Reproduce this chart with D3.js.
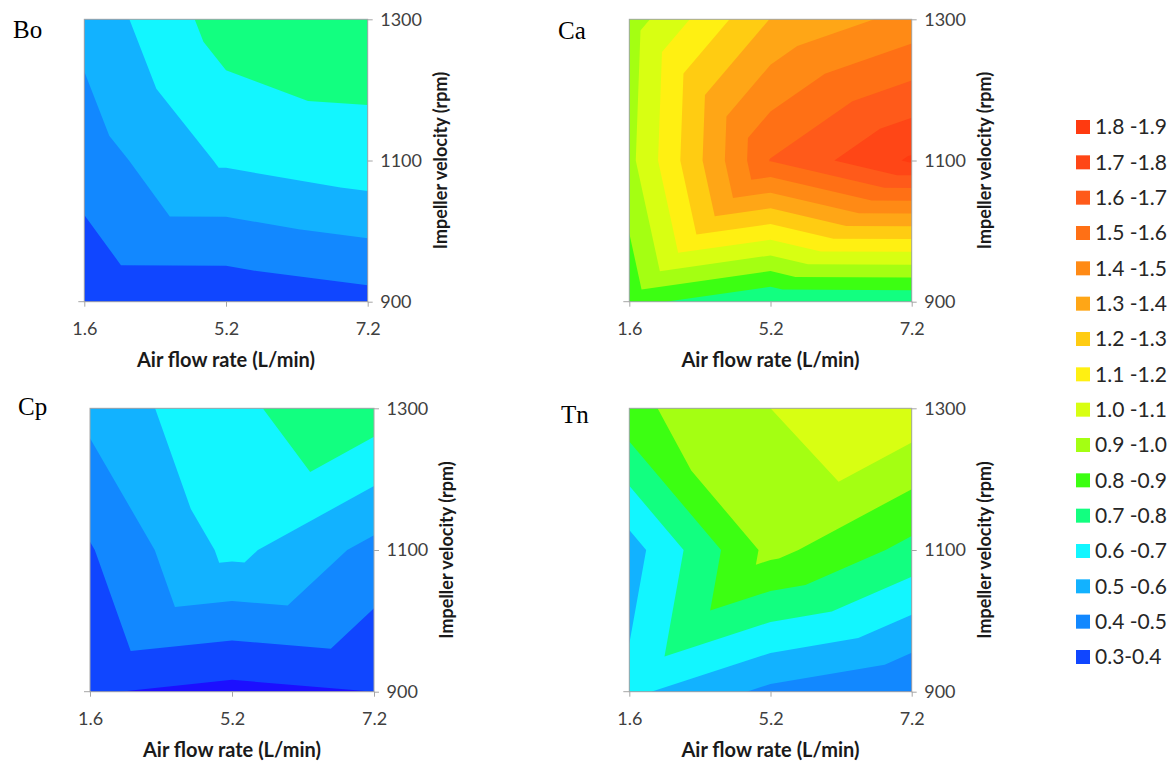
<!DOCTYPE html>
<html>
<head>
<meta charset="utf-8">
<script src="https://cdn.jsdelivr.net/npm/d3@7"></script>
<style>
  html, body { margin: 0; padding: 0; background: #ffffff; }
  svg { display: block; }
</style>
</head>
<body>
<svg id="chart" width="1176" height="766"></svg>
<script>
// Grid categories
const airFlow = ["1.6", "5.2", "7.2"];          // L/min
const impeller = ["900", "1100", "1300"];       // rpm

// Measured responses: one row per impeller velocity (900, 1100, 1300),
// one column per air flow rate (1.6, 5.2, 7.2)
const bo = [
  [0.325, 0.3265, 0.365],
  [0.447, 0.615, 0.665],
  [0.531, 0.748, 0.754]
];
const ca = [
  [0.833, 0.705, 0.710],
  [0.971, 1.605, 1.815],
  [0.948, 1.303, 1.435]
];
const cp = [
  [0.308, 0.270, 0.300],
  [0.392, 0.629, 0.470],
  [0.529, 0.684, 0.758]
];
const tn = [
  [0.623, 0.475, 0.398],
  [0.555, 0.932, 0.770],
  [0.875, 1.000, 1.073]
];

// Contour bands: lower bound of each band and its fill
const levels = [0.2, 0.3, 0.4, 0.5, 0.6, 0.7, 0.8, 0.9, 1.0, 1.1, 1.2, 1.3, 1.4, 1.5, 1.6, 1.7, 1.8];
const levelColors = [
  "#1c10ff", "#1046ff", "#1288ff", "#12b2ff", "#12f6ff", "#12ff80", "#3cff12", "#a4ff12",
  "#d8ff12", "#fff012", "#ffcc12", "#ffa616", "#ff8a15", "#ff7015", "#ff5a1a", "#ff4616", "#ff3a10"
];
const legendLabels = [
  "1.8 -1.9", "1.7 -1.8", "1.6 -1.7", "1.5 -1.6", "1.4 -1.5", "1.3 -1.4", "1.2 -1.3", "1.1 -1.2",
  "1.0 -1.1", "0.9 -1.0", "0.8 -0.9", "0.7 -0.8", "0.6 -0.7", "0.5 -0.6", "0.4 -0.5", "0.3-0.4"
];
const legendLows = [1.8, 1.7, 1.6, 1.5, 1.4, 1.3, 1.2, 1.1, 1.0, 0.9, 0.8, 0.7, 0.6, 0.5, 0.4, 0.3];

const panels = [
  { title: "Bo", values: bo, box: { x0: 84.3, x1: 367.7, y0: 19.3, y1: 301.7 }, titleAt: [13, 38] },
  { title: "Ca", values: ca, box: { x0: 629.3, x1: 911.7, y0: 19.3, y1: 301.7 }, titleAt: [558, 39] },
  { title: "Cp", values: cp, box: { x0: 90, x1: 374, y0: 408.3, y1: 691.7 }, titleAt: [18, 415] },
  { title: "Tn", values: tn, box: { x0: 629.3, x1: 911.7, y0: 408.3, y1: 691.7 }, titleAt: [561, 423] }
];

const svg = d3.select("#chart");
const tickFont = "Lato, 'Open Sans', sans-serif";
const axisGray = "#a6a6a6";
const textGray = "#404040";

const ring = d3.line().x(p => p.x).y(p => p.y).curve(d3.curveLinearClosed);

// Keep the part of a planar triangle where value >= t
function clipAbove(poly, t) {
  const out = [];
  for (let k = 0; k < poly.length; k++) {
    const a = poly[k], b = poly[(k + 1) % poly.length];
    const ina = a.v >= t, inb = b.v >= t;
    if (ina) out.push(a);
    if (ina !== inb) {
      const s = (t - a.v) / (b.v - a.v);
      out.push({ x: a.x + s * (b.x - a.x), y: a.y + s * (b.y - a.y), v: t });
    }
  }
  return out;
}

panels.forEach(panel => {
  const { x0, x1, y0, y1 } = panel.box;
  const x = d3.scalePoint().domain(airFlow).range([x0, x1]);
  const y = d3.scalePoint().domain(impeller).range([y1, y0]);
  const g = svg.append("g");

  // Split each grid cell into two triangles along its higher diagonal
  const node = (i, j) => ({ x: x(airFlow[i]), y: y(impeller[j]), v: panel.values[j][i] });
  const tris = [];
  for (let i = 0; i < airFlow.length - 1; i++) {
    for (let j = 0; j < impeller.length - 1; j++) {
      const a = node(i, j), b = node(i + 1, j), c = node(i + 1, j + 1), d = node(i, j + 1);
      if (a.v + c.v >= b.v + d.v) tris.push([a, b, c], [a, c, d]);
      else tris.push([a, b, d], [b, c, d]);
    }
  }

  // Paint the bands from the lowest upward; each layer covers value >= its bound
  levels.forEach((t, k) => {
    const dStr = tris.map(tr => clipAbove(tr, t))
      .filter(p => p.length >= 3)
      .map(p => ring(p))
      .join("");
    if (dStr) g.append("path").attr("d", dStr).attr("fill", levelColors[k]);
  });

  // Plot frame
  g.append("rect")
    .attr("x", x0).attr("y", y0)
    .attr("width", x1 - x0).attr("height", y1 - y0)
    .attr("fill", "none").attr("stroke", axisGray).attr("stroke-width", 1);

  // Right value axis
  const ya = g.append("g").attr("transform", `translate(${x1},0)`)
    .call(d3.axisRight(y).tickSize(5).tickSizeOuter(0).tickPadding(7.5));
  ya.select(".domain").remove();
  ya.selectAll("line").attr("stroke", axisGray);
  ya.selectAll("text").attr("fill", textGray).style("font-family", tickFont).style("font-size", "18px");

  // Bottom category axis
  const xa = g.append("g").attr("transform", `translate(0,${y1})`)
    .call(d3.axisBottom(x).tickSize(5).tickSizeOuter(0));
  xa.select(".domain").remove();
  xa.selectAll("line").attr("stroke", axisGray);
  xa.selectAll("text").attr("y", 27).attr("dy", "0.35em")
    .attr("fill", textGray).style("font-family", tickFont).style("font-size", "18px");

  g.append("line")
    .attr("x1", x0 - 6).attr("x2", x0).attr("y1", y1).attr("y2", y1)
    .attr("stroke", axisGray);

  // Axis titles
  g.append("text")
    .attr("x", (x0 + x1) / 2).attr("y", y1 + 58)
    .attr("text-anchor", "middle").attr("dy", "0.35em")
    .style("font-family", tickFont).style("font-weight", "700").style("font-size", "20px")
    .attr("fill", "#1a1a1a")
    .text("Air flow rate (L/min)");

  g.append("text")
    .attr("transform", `translate(${x1 + 73},${(y0 + y1) / 2}) rotate(-90)`)
    .attr("text-anchor", "middle").attr("dy", "0.35em")
    .style("font-family", tickFont).style("font-weight", "700").style("font-size", "18px")
    .attr("fill", "#1a1a1a")
    .text("Impeller velocity (rpm)");

  // Panel label
  g.append("text")
    .attr("x", panel.titleAt[0]).attr("y", panel.titleAt[1])
    .style("font-family", "'Liberation Serif', 'Times New Roman', serif").style("font-size", "25px")
    .attr("fill", "#000")
    .text(panel.title);
});

// Legend
const legend = svg.append("g");
const ly = d3.scalePoint().domain(legendLabels).range([127, 657]);
legendLabels.forEach((label, k) => {
  const color = levelColors[levels.indexOf(legendLows[k])];
  const cy = ly(label);
  legend.append("rect")
    .attr("x", 1076).attr("y", cy - 7).attr("width", 14).attr("height", 14)
    .attr("fill", color);
  legend.append("text")
    .attr("x", 1095).attr("y", cy).attr("dy", "0.35em")
    .style("font-family", tickFont).style("font-size", "21px")
    .attr("fill", "#262626")
    .text(label);
});
</script>
</body>
</html>
